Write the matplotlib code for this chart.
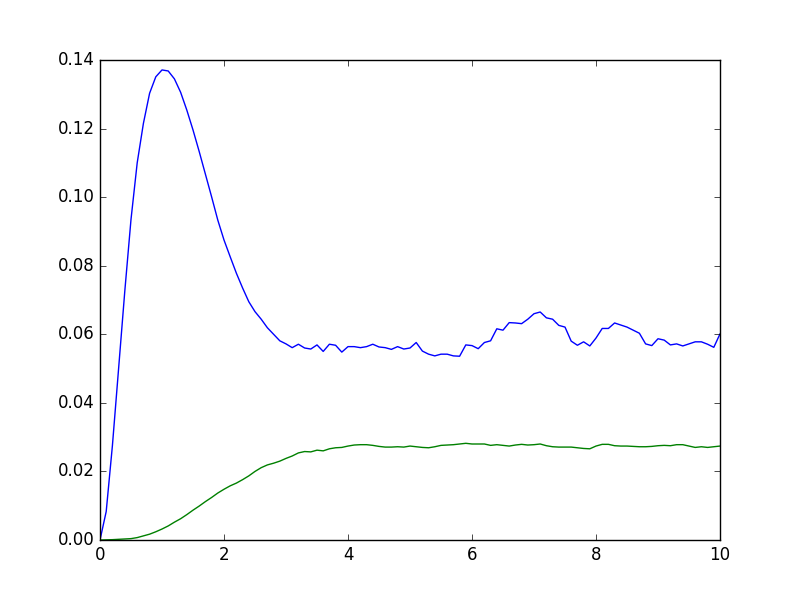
import matplotlib
matplotlib.use("Agg")
import matplotlib.pyplot as plt
import numpy as np

# sample times, one every 0.1 from 0 to 10
t = np.round(np.arange(101) * 0.1, 1)

# blue series
blue = [
    0.0, 0.0083, 0.0275, 0.050, 0.0726, 0.0935, 0.1100, 0.1215, 0.1303, 0.1351,
    0.1371, 0.1368, 0.1345, 0.1306, 0.1254, 0.1196, 0.1133, 0.1067, 0.1001, 0.0933,
    0.0875, 0.0826, 0.0778, 0.0735, 0.0695, 0.0666, 0.0644, 0.0619, 0.0600, 0.0581,
    0.0572, 0.0561, 0.0571, 0.0560, 0.0557, 0.0569, 0.0550, 0.0571, 0.0568, 0.0548,
    0.0564, 0.0564, 0.0561, 0.0564, 0.0571, 0.0563, 0.0561, 0.0556, 0.0564, 0.0557,
    0.0560, 0.0576, 0.0551, 0.0542, 0.0537, 0.0542, 0.0542, 0.0537, 0.0536, 0.0569,
    0.0567, 0.0558, 0.0576, 0.0581, 0.0616, 0.0612, 0.0634, 0.0633, 0.0631, 0.0644,
    0.0660, 0.0665, 0.0648, 0.0644, 0.0626, 0.0621, 0.0580, 0.0568, 0.0578, 0.0566,
    0.0589, 0.0617, 0.0617, 0.0633, 0.0627, 0.0621, 0.0612, 0.0603, 0.0572, 0.0567,
    0.0587, 0.0583, 0.0569, 0.0572, 0.0566, 0.0572, 0.0578, 0.0578, 0.0571, 0.0562,
    0.0601,
]

# green series
green = [
    0.0, 0.00005, 0.0001, 0.0002, 0.0003, 0.0004, 0.0007, 0.0012, 0.0017, 0.0024,
    0.0032, 0.0041, 0.0052, 0.0062, 0.0074, 0.0087, 0.0099, 0.0112, 0.0124, 0.0137,
    0.0148, 0.0158, 0.0166, 0.0176, 0.0187, 0.0200, 0.0211, 0.0219, 0.0224, 0.0230,
    0.0238, 0.0245, 0.0254, 0.0258, 0.0257, 0.0262, 0.0260, 0.0266, 0.0269, 0.0270,
    0.0274, 0.0277, 0.0278, 0.0278, 0.0276, 0.0273, 0.0271, 0.0271, 0.0272, 0.0271,
    0.0274, 0.0272, 0.0270, 0.0269, 0.0272, 0.0276, 0.0277, 0.0278, 0.0280, 0.0282,
    0.0280, 0.0280, 0.0280, 0.0276, 0.0278, 0.0276, 0.0274, 0.0277, 0.0279, 0.0277,
    0.0278, 0.0280, 0.0275, 0.0272, 0.0271, 0.0271, 0.0271, 0.0269, 0.0267, 0.0266,
    0.0274, 0.0279, 0.0279, 0.0275, 0.0274, 0.0274, 0.0273, 0.0272, 0.0272, 0.0273,
    0.0275, 0.0276, 0.0275, 0.0278, 0.0278, 0.0274, 0.0270, 0.0272, 0.0270, 0.0272,
    0.0274,
]

plt.style.use("classic")

fig, ax = plt.subplots(figsize=(8, 6), dpi=100)
ax.plot(t, blue, color="b", linewidth=1)
ax.plot(t, green, color="g", linewidth=1)
ax.set_xlim(0, 10)
ax.set_ylim(0, 0.14)

fig.savefig("out.png", dpi=100, facecolor="white")
